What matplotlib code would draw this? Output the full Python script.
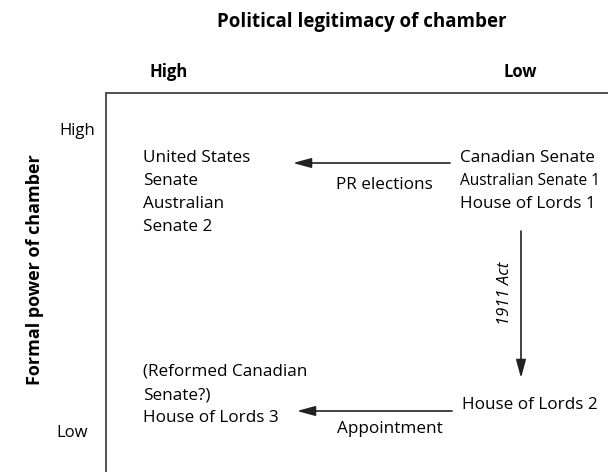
import matplotlib.pyplot as plt

# text content
title = 'Political legitimacy of chamber'
ylabel = 'Formal power of chamber'
col_labels = ['High', 'Low']
row_labels = ['High', 'Low']
top_left = ['United States', 'Senate', 'Australian', 'Senate 2']
top_right = ['Canadian Senate', 'Australian Senate 1', 'House of Lords 1']
bottom_left = ['(Reformed Canadian', 'Senate?)', 'House of Lords 3']
bottom_right = ['House of Lords 2']
arrow_labels = ['PR elections', '1911 Act', 'Appointment']

W, H = 608, 472
FONT = 'Open Sans'
FS = 12.3

fig = plt.figure(figsize=(W / 100, H / 100), dpi=100)
ax = fig.add_axes([0, 0, 1, 1])
ax.set_xlim(0, W)
ax.set_ylim(H, 0)
ax.axis('off')

# header / axis titles
ax.text(362, 22, title, ha='center', va='center', fontsize=13.5, fontweight='bold', family=FONT)
ax.text(169, 72, col_labels[0], ha='center', va='center', fontsize=12, fontweight='bold', family=FONT)
ax.text(520, 72, col_labels[1], ha='center', va='center', fontsize=12, fontweight='bold', family=FONT)
ax.text(35, 270, ylabel, ha='center', va='center', rotation=90, fontsize=13, fontweight='bold', family=FONT)
ax.text(95, 131, row_labels[0], ha='right', va='center', fontsize=12, family=FONT)
ax.text(88, 433, row_labels[1], ha='right', va='center', fontsize=12, family=FONT)

# frame (open on right and bottom)
ax.plot([106, 106, W], [H, 93, 93], color='#333333', lw=1.2, solid_joinstyle='miter')

def block(x, y, lines, sizes=None):
    for i, s in enumerate(lines):
        fs = sizes[i] if sizes else FS
        ax.text(x, y + i * 23, s, ha='left', va='center', fontsize=fs, family=FONT)

block(143, 158, top_left)
block(460, 158, top_right, sizes=[FS, 11.2, FS])
block(143, 372, bottom_left)
block(462, 405, bottom_right)

arr = dict(arrowstyle='-|>,head_length=1.1,head_width=0.3', color='#222222', lw=1.2,
           shrinkA=0, shrinkB=0)
ax.annotate('', xy=(293, 163), xytext=(450, 163), arrowprops=arr)
ax.annotate('', xy=(521, 378), xytext=(521, 231), arrowprops=arr)
ax.annotate('', xy=(297, 411), xytext=(452, 411), arrowprops=arr)

ax.text(384, 185, arrow_labels[0], ha='center', va='center', fontsize=FS, family=FONT)
ax.text(505, 293, arrow_labels[1], ha='center', va='center', rotation=90, fontsize=12,
        style='italic', family=FONT)
ax.text(443, 429, arrow_labels[2], ha='right', va='center', fontsize=FS, family=FONT)

fig.savefig('out.png', dpi=100)
